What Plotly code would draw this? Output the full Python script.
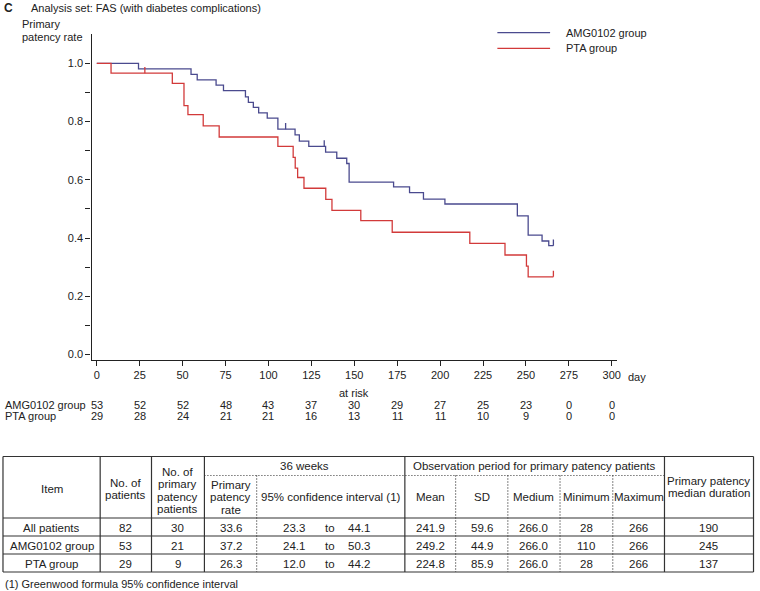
import plotly.graph_objects as go

W, H = 760, 591

# ---------------- Kaplan-Meier data ----------------
amg_t = [0, 24.3, 54.9, 58.5, 69.5, 73.8, 86.6, 88.3, 91.2, 94.3, 99.3, 105.5,
         115.5, 118.0, 123.5, 133.3, 139.8, 145.6, 147.0, 172.9, 182.2, 190.3,
         202.8, 245.0, 251.3, 259.4, 263.3]
amg_s = [1.0, 0.981, 0.962, 0.943, 0.925, 0.906, 0.885, 0.866, 0.849, 0.830, 0.812, 0.774,
         0.754, 0.733, 0.715, 0.695, 0.674, 0.656, 0.592, 0.576, 0.556, 0.534,
         0.517, 0.476, 0.410, 0.390, 0.374]
amg_end = 266
amg_cens = [110, 132.5, 266]

pta_t = [0, 8.3, 44.0, 50.8, 53.1, 62.0, 71.3, 105.5, 114.4, 115.6, 117.0, 120.7,
         133.4, 137.0, 153.8, 172.1, 217.3, 237.8, 250.3, 251.3]
pta_s = [1.0, 0.966, 0.931, 0.855, 0.824, 0.785, 0.747, 0.715, 0.677, 0.640, 0.608, 0.571,
         0.533, 0.495, 0.460, 0.420, 0.382, 0.342, 0.304, 0.267]
pta_end = 266
pta_cens = [28, 266]

day_ticks = list(range(0, 301, 25))
amg_risk = [53, 52, 52, 48, 43, 37, 30, 29, 27, 25, 23, 0, 0]
pta_risk = [29, 28, 24, 21, 21, 16, 13, 11, 11, 10, 9, 0, 0]
y_ticks = [round(i * 0.1, 1) for i in range(12)]
y_ticktext = [f"{v:.1f}" if i % 2 == 0 and v <= 1.0 else "" for i, v in enumerate(y_ticks)]

# ---------------- Summary table data ----------------
tbl_item = ["All patients", "AMG0102 group", "PTA group"]
tbl_n = ["82", "53", "29"]
tbl_npat = ["30", "21", "9"]
tbl_rate = ["33.6", "37.2", "26.3"]
tbl_ci_lo = ["23.3", "24.1", "12.0"]
tbl_ci_hi = ["44.1", "50.3", "44.2"]
tbl_mean = ["241.9", "249.2", "224.8"]
tbl_sd = ["59.6", "44.9", "85.9"]
tbl_med = ["266.0", "266.0", "266.0"]
tbl_min = ["28", "110", "28"]
tbl_max = ["266", "266", "266"]
tbl_dur = ["190", "245", "137"]

BLUE = "#4a4a8e"
RED = "#d23a3a"
INK = "#222222"
FONT = "Liberation Sans, Arial, sans-serif"


def px(x):
    return x / W


def py(y):
    return 1 - y / H


def surv_at(ts, ss, t):
    v = ss[0]
    for ti, si in zip(ts, ss):
        if ti <= t:
            v = si
    return v


fig = go.Figure()

for ts, ss, end, cens, col in [(amg_t, amg_s, amg_end, amg_cens, BLUE),
                               (pta_t, pta_s, pta_end, pta_cens, RED)]:
    fig.add_trace(go.Scatter(x=ts + [end], y=ss + [ss[-1]], mode="lines",
                             line=dict(color=col, width=1.3, shape="hv"),
                             showlegend=False, hoverinfo="skip"))
    cx, cy = [], []
    for c in cens:
        s = surv_at(ts, ss, c)
        cx += [c, c, None]
        cy += [s, s + 0.021, None]
    fig.add_trace(go.Scatter(x=cx, y=cy, mode="lines",
                             line=dict(color=col, width=1.3),
                             showlegend=False, hoverinfo="skip"))

ann = []


def text(x, y, s, size=11.5, xanchor="center", bold=False, xref="paper"):
    ann.append(dict(x=x if xref != "paper" else px(x), y=py(y), xref=xref, yref="paper",
                    text=f"<b>{s}</b>" if bold else s, showarrow=False,
                    xanchor=xanchor, yanchor="middle",
                    font=dict(family=FONT, size=size, color=INK)))


def mtext(x, yc, lines, spacing=12.5, size=11.5):
    n = len(lines)
    for i, ln in enumerate(lines):
        text(x, yc + (i - (n - 1) / 2) * spacing, ln, size=size)


# Title and axis titles
text(2, 8, "C", size=12, xanchor="left", bold=True)
text(29, 8, "Analysis set: FAS (with diabetes complications)", size=11, xanchor="left")
text(20, 24, "Primary", size=11, xanchor="left")
text(20, 36.5, "patency rate", size=11, xanchor="left")
text(629, 377, "day", size=11, xanchor="left")
text(150, 393, "at risk", size=11, xref="x")

# Legend
shapes = []
for yy, col, lab in [(32.7, BLUE, "AMG0102 group"), (48.3, RED, "PTA group")]:
    shapes.append(dict(type="line", xref="paper", yref="paper",
                       x0=px(500), x1=px(553), y0=py(yy), y1=py(yy),
                       line=dict(color=col, width=1.3)))
    text(567, yy, lab, size=11, xanchor="left")

# At-risk table
text(3, 405, "AMG0102 group", size=11, xanchor="left")
text(3, 415.5, "PTA group", size=11, xanchor="left")
for d, a, p in zip(day_ticks, amg_risk, pta_risk):
    text(d, 405, str(a), size=11, xref="x")
    text(d, 415.5, str(p), size=11, xref="x")

# Summary table grid
cols = [3, 100.7, 152.3, 205.5, 258, 407, 458, 510.5, 563, 616, 668, 757.5]
top, mid = 456.5, 475.5
rows = [518, 536, 554, 572]
bottom = rows[-1]


def hline(y, x0, x1, dash="solid", w=1.2):
    shapes.append(dict(type="line", xref="paper", yref="paper",
                       x0=px(x0), x1=px(x1), y0=py(y), y1=py(y),
                       line=dict(color="#333333", width=w, dash=dash)))


def vline(x, y0, y1, dash="solid", w=1.2):
    shapes.append(dict(type="line", xref="paper", yref="paper",
                       x0=px(x), x1=px(x), y0=py(y0), y1=py(y1),
                       line=dict(color="#333333", width=w, dash=dash)))


hline(top, cols[0], cols[-1])
for r in rows:
    hline(r, cols[0], cols[-1])
hline(mid, cols[3], cols[10], dash="1px,2px")
for i in [0, 1, 2, 3, 5, 10, 11]:
    vline(cols[i], top, bottom)
for i in [4, 6, 7, 8, 9]:
    vline(cols[i], mid, bottom, dash="1px,2px")


def cc(i):
    return (cols[i] + cols[i + 1]) / 2


# header text
mtext(cc(0), 489, ["Item"])
mtext(cc(1), 489, ["No. of", "patients"])
mtext(cc(2), 490.5, ["No. of", "primary", "patency", "patients"])
mtext((cols[3] + cols[5]) / 2, 465.5, ["36 weeks"])
mtext((cols[5] + cols[10]) / 2, 465.5, ["Observation period for primary patency patients"])
mtext(cc(3), 497, ["Primary", "patency", "rate"])
mtext(cc(4), 497, ["95% confidence interval (1)"])
mtext(cc(5), 497, ["Mean"])
mtext(cc(6), 497, ["SD"])
mtext(cc(7), 497, ["Medium"])
mtext(cc(8), 497, ["Minimum"])
mtext(cc(9), 497, ["Maximum"])
mtext(cc(10), 487, ["Primary patency", "median duration"])

for k in range(3):
    yc = (rows[k] + rows[k + 1]) / 2 + 0.5
    text(cc(0), yc, tbl_item[k])
    text(cc(1), yc, tbl_n[k])
    text(cc(2), yc, tbl_npat[k])
    text(cc(3), yc, tbl_rate[k])
    text(296, yc, tbl_ci_lo[k])
    text(332, yc, "to")
    text(361, yc, tbl_ci_hi[k])
    text(cc(5), yc, tbl_mean[k])
    text(cc(6), yc, tbl_sd[k])
    text(cc(7), yc, tbl_med[k])
    text(cc(8), yc, tbl_min[k])
    text(cc(9), yc, tbl_max[k])
    text(cc(10), yc, tbl_dur[k])

text(3, 584, "(1) Greenwood formula 95% confidence interval", size=11, xanchor="left")

# axes geometry
x0px, x1px = 92, 620
day0_px, day300_px = 97.3, 615
ppd = (day300_px - day0_px) / 300
xr = [-(day0_px - x0px) / ppd, 300 + (x1px - day300_px) / ppd]
ytop_px, ybot_px = 34.3, 360
v0_px, v1_px = 354.6, 63.3
ppv = v0_px - v1_px
yr = [-(ybot_px - v0_px) / ppv, (v0_px - ytop_px) / ppv]

fig.update_layout(
    width=W, height=H,
    margin=dict(l=0, r=0, t=0, b=0),
    paper_bgcolor="white", plot_bgcolor="white",
    showlegend=False,
    font=dict(family=FONT, size=11, color=INK),
    xaxis=dict(domain=[px(x0px), px(x1px)], range=xr, tickvals=day_ticks,
               ticks="outside", ticklen=5, tickwidth=1.1, tickcolor=INK,
               showline=True, linecolor=INK, linewidth=1.3, showgrid=False,
               zeroline=False, tickfont=dict(size=11, color=INK, family=FONT)),
    yaxis=dict(domain=[py(ybot_px), py(ytop_px)], range=yr, tickvals=y_ticks,
               ticktext=y_ticktext, ticks="outside", ticklen=5, tickwidth=1.1,
               tickcolor=INK, showline=True, linecolor=INK, linewidth=1.3,
               showgrid=False, zeroline=False,
               tickfont=dict(size=11, color=INK, family=FONT)),
    annotations=ann,
    shapes=shapes,
)

fig.write_html(
    "out.html",
    config={"displayModeBar": False},
    post_script="document.body.style.margin='0px';document.body.style.overflow='hidden';",
)
